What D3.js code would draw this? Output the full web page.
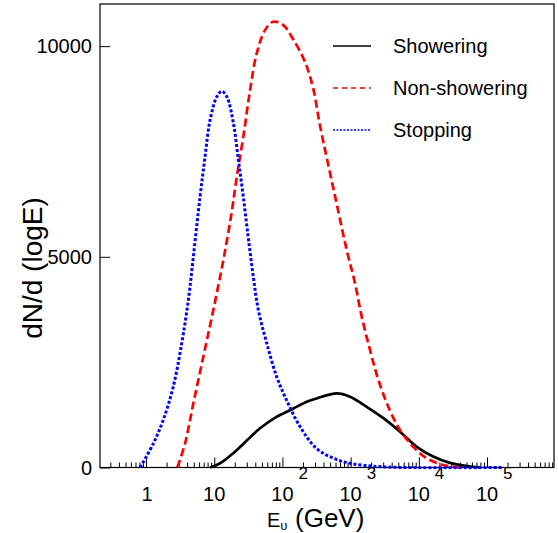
<!DOCTYPE html>
<html>
<head>
<meta charset="utf-8">
<script src="https://cdn.jsdelivr.net/npm/d3@7"></script>
<style>
  body { margin: 0; background: #fff; }
  text { font-family: "Liberation Sans", Arial, sans-serif; fill: #000; }
</style>
</head>
<body>
<div id="chart"></div>
<script>
// Energies (GeV) and counts
var stoppingE = [0.82, 1.28, 1.79, 2.51, 3.34, 4.17, 4.94, 6.19, 7.33, 8.67, 10.9, 12.9, 15.3, 19.1, 22.6, 26.7, 31.6, 37.4, 44.3, 58.9, 82.5, 115, 181, 317, 557, 980, 3000, 170000];
var stoppingN = [0, 570, 1130, 1920, 2950, 3970, 5000, 6420, 7370, 8240, 8800, 8930, 8800, 8170, 7300, 6420, 5450, 4530, 3740, 2950, 2150, 1600, 970, 450, 220, 100, 15, 0];

var nonShowerE = [2.88, 3.73, 4.94, 6.92, 9.7, 13.6, 18, 21.4, 26.7, 33.5, 42, 55.6, 73.6, 103, 144, 215, 284, 355, 617, 877, 1160, 1455, 1924, 2549, 3573, 5300, 8300, 13060, 22900, 40000];
var nonShowerN = [0, 570, 1520, 2630, 3740, 4920, 6050, 6900, 7850, 8950, 9830, 10380, 10580, 10500, 10160, 9620, 8980, 8120, 6300, 5160, 4370, 3580, 2790, 2080, 1440, 890, 490, 220, 60, 0];

var showerE = [8.7, 12.2, 19, 30, 47, 82, 145, 227, 318, 625, 980, 1720, 3020, 5300, 9330, 16200, 28600, 50000, 79000];
var showerN = [0, 100, 340, 640, 930, 1200, 1400, 1560, 1640, 1760, 1680, 1440, 1170, 850, 490, 260, 110, 35, 0];

var seriesNames = ["Showering", "Non-showering", "Stopping"];

var yTickValues = [0, 5000, 10000];
var xTickValues = [1, 10, 100, 1000, 10000, 100000];
var xTickBase = ["1", "10", "10", "10", "10", "10"];
var xTickExp = ["", "", "2", "3", "4", "5"];

// SVG area
var svgWidth = 558;
var svgHeight = 533;

var plot = { left: 100, right: 554, top: 4, bottom: 467.5 };

var svg = d3.select("#chart")
  .append("svg")
  .attr("width", svgWidth)
  .attr("height", svgHeight);

// Scales
var xLogScale = d3.scaleLog()
  .domain([Math.pow(10, -0.675), Math.pow(10, 5.982)])
  .range([plot.left, plot.right]);

var yLinearScale = d3.scaleLinear()
  .domain([0, 11000])
  .range([plot.bottom, plot.top]);

// Minor ticks 2..9 in every decade
var minorTicks = [];
for (var p = -1; p <= 5; p++) {
  for (var m = 2; m <= 9; m++) {
    var v = m * Math.pow(10, p);
    if (v > xLogScale.domain()[0] && v < xLogScale.domain()[1]) minorTicks.push(v);
  }
}

var minorAxis = d3.axisTop(xLogScale)
  .tickValues(minorTicks)
  .tickSize(5)
  .tickFormat("");

var majorAxis = d3.axisTop(xLogScale)
  .tickValues(xTickValues)
  .tickSize(10)
  .tickFormat("");

svg.append("g")
  .attr("transform", `translate(0, ${plot.bottom})`)
  .call(minorAxis)
  .call(g => g.select(".domain").remove());

svg.append("g")
  .attr("transform", `translate(0, ${plot.bottom})`)
  .call(majorAxis)
  .call(g => g.select(".domain").remove());

var leftAxis = d3.axisRight(yLinearScale)
  .tickValues(yTickValues)
  .tickSize(10)
  .tickFormat("");

svg.append("g")
  .attr("transform", `translate(${plot.left}, 0)`)
  .call(leftAxis)
  .call(g => g.select(".domain").remove());

svg.selectAll(".tick line")
  .attr("stroke", "#000")
  .attr("stroke-width", 1);

// Frame
svg.append("rect")
  .attr("x", plot.left)
  .attr("y", plot.top)
  .attr("width", plot.right - plot.left)
  .attr("height", plot.bottom - plot.top)
  .attr("fill", "none")
  .attr("stroke", "#000")
  .attr("stroke-width", 1.2);

// Y tick labels
svg.selectAll(null)
  .data(yTickValues)
  .enter()
  .append("text")
  .attr("x", plot.left - 8)
  .attr("y", d => yLinearScale(d) + 7)
  .attr("text-anchor", "end")
  .attr("font-size", "20px")
  .text(d => d);

// X tick labels with exponents
xTickValues.forEach(function(v, i) {
  var x = xLogScale(v);
  svg.append("text")
    .attr("x", x + (i == 0 ? 1 : 0))
    .attr("y", 501)
    .attr("text-anchor", "middle")
    .attr("font-size", "20px")
    .text(xTickBase[i]);
  if (xTickExp[i] != "") {
    svg.append("text")
      .attr("x", x + 16)
      .attr("y", 479)
      .attr("font-size", "17px")
      .text(xTickExp[i]);
  }
});

// Axis titles
var xTitle = svg.append("text")
  .attr("x", 267)
  .attr("y", 527)
  .attr("font-size", "20px");
xTitle.append("tspan").text("E");
xTitle.append("tspan").attr("font-size", "13px").attr("dy", 3).text("\u03c5");

svg.append("text")
  .attr("x", 295)
  .attr("y", 527)
  .attr("font-size", "26px")
  .text("(GeV)");

svg.append("text")
  .attr("transform", "translate(42, 268) rotate(-90)")
  .attr("text-anchor", "middle")
  .attr("font-size", "28px")
  .text("dN/d (logE)");

// Curves
var line = d3.line()
  .x(d => xLogScale(d[0]))
  .y(d => yLinearScale(d[1]))
  .curve(d3.curveCatmullRom.alpha(0.5));

svg.append("clipPath").attr("id", "clip")
  .append("rect")
  .attr("x", plot.left)
  .attr("y", plot.top)
  .attr("width", plot.right - plot.left)
  .attr("height", plot.bottom - plot.top + 2);

var curves = svg.append("g").attr("clip-path", "url(#clip)");

curves.append("path")
  .datum(d3.zip(showerE, showerN))
  .attr("d", line)
  .attr("fill", "none")
  .attr("stroke", "#000")
  .attr("stroke-width", 2.7);

curves.append("path")
  .datum(d3.zip(nonShowerE, nonShowerN))
  .attr("d", line)
  .attr("fill", "none")
  .attr("stroke", "#ff0000")
  .attr("stroke-width", 2.7)
  .attr("stroke-dasharray", "8 4");

curves.append("path")
  .datum(d3.zip(stoppingE, stoppingN))
  .attr("d", line)
  .attr("fill", "none")
  .attr("stroke", "#0000ff")
  .attr("stroke-width", 3)
  .attr("stroke-dasharray", "3 2");

// Legend
var legendColors = ["#000", "#ff0000", "#0000ff"];
var legendDash = ["none", "5 4", "2 1.5"];
var legendY = [46, 88, 130];

seriesNames.forEach(function(name, i) {
  svg.append("line")
    .attr("x1", 333)
    .attr("x2", 371)
    .attr("y1", legendY[i])
    .attr("y2", legendY[i])
    .attr("stroke", legendColors[i])
    .attr("stroke-width", 1.5)
    .attr("stroke-dasharray", legendDash[i]);
  svg.append("text")
    .attr("x", 393)
    .attr("y", legendY[i] + 7)
    .attr("font-size", "20px")
    .text(name);
});
</script>
</body>
</html>
